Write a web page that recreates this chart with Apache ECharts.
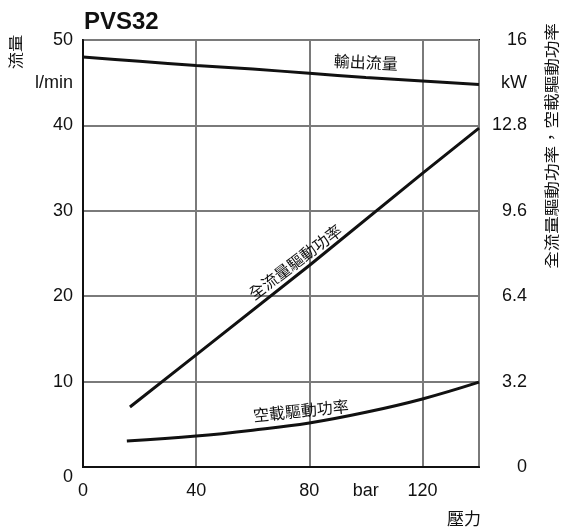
<!DOCTYPE html>
<html>
<head>
<meta charset="utf-8">
<script src="https://cdn.jsdelivr.net/npm/echarts@6/dist/echarts.min.js"></script>
<style>
html,body{margin:0;padding:0;background:#fff;}
#c{width:565px;height:527px;}
</style>
</head>
<body>
<div id="c"></div>
<script>
// ---- data ----
const titleText = 'PVS32';
const flowPressure = [0, 20, 40, 60, 80, 100, 120, 140];
const flowValues = [48.0, 47.5, 47.0, 46.6, 46.1, 45.6, 45.2, 44.8];          // l/min
const fullPressure = [16.6, 40, 80, 120, 140];
const fullPower = [2.25, 4.2, 7.55, 11.0, 12.7];                                 // kW
const noLoadPressure = [15.5, 40, 60, 80, 100, 120, 140];
const noLoadPower = [0.97, 1.16, 1.38, 1.65, 2.05, 2.55, 3.18];                  // kW
const seriesNames = ['輸出流量', '全流量驅動功率', '空載驅動功率'];
const leftAxisName = '流量';
const rightAxisName = '全流量驅動功率，空載驅動功率';
const xAxisName = '壓力';
const xUnit = 'bar';
const leftUnit = 'l/min';
const rightUnit = 'kW';

const FONT = '"Liberation Sans", Arial, sans-serif';
const CJK = '"Noto Sans CJK TC", "Noto Sans CJK SC", sans-serif';
const INK = '#111';
const GRID = '#7a7a7a';

function zip(a, b) { return a.map((v, i) => [v, b[i]]); }
function fmtNum(v) { return String(Math.round(v * 10) / 10); }

const chart = echarts.init(document.getElementById('c'), null, { renderer: 'canvas' });

const option = {
  animation: false,
  backgroundColor: '#fff',
  title: {
    text: titleText, left: 79, top: 5,
    textStyle: { fontFamily: FONT, fontSize: 24, fontWeight: 'bold', color: INK }
  },
  grid: { left: 83, right: 86, top: 40, bottom: 60, show: true, borderColor: INK, borderWidth: 2, backgroundColor: 'transparent' },
  xAxis: [
    {
      type: 'value', min: 0, max: 140, interval: 40,
      axisLine: { show: true, lineStyle: { color: INK, width: 2 } },
      axisTick: { show: false },
      splitLine: { show: true, lineStyle: { color: GRID, width: 2 } },
      axisLabel: {
        margin: 15, color: INK, fontFamily: FONT, fontSize: 18,
        showMaxLabel: false,
        formatter: v => (v === 140 ? '' : String(v))
      }
    },
    {
      type: 'value', min: 0, max: 140, interval: 20, position: 'bottom',
      axisLine: { show: false }, axisTick: { show: false }, splitLine: { show: false },
      axisLabel: {
        margin: 15, color: INK, fontFamily: FONT, fontSize: 18,
        formatter: v => (v === 100 ? xUnit : '')
      }
    }
  ],
  yAxis: [
    {
      type: 'value', min: 0, max: 50, interval: 10, position: 'left',
      axisLine: { show: true, lineStyle: { color: INK, width: 2 } },
      axisTick: { show: false },
      splitLine: { show: true, lineStyle: { color: GRID, width: 2 } },
      axisLabel: {
        margin: 10, color: INK, fontFamily: FONT, fontSize: 18,
        formatter: v => (v === 0 ? '{z|0}' : String(v)),
        rich: { z: { fontFamily: FONT, fontSize: 18, color: INK, padding: [20, 0, 0, 0] } }
      }
    },
    {
      type: 'value', min: 0, max: 16, interval: 3.2, position: 'right',
      axisLine: { show: false }, axisTick: { show: false }, splitLine: { show: false },
      axisLabel: {
        margin: 48, align: 'right', color: INK, fontFamily: FONT, fontSize: 18,
        formatter: v => fmtNum(v)
      }
    },
    {
      type: 'value', min: 0, max: 50, interval: 5, position: 'left',
      axisLine: { show: false }, axisTick: { show: false }, splitLine: { show: false },
      axisLabel: {
        margin: 10, color: INK, fontFamily: FONT, fontSize: 18,
        formatter: v => (v === 45 ? leftUnit : '')
      }
    },
    {
      type: 'value', min: 0, max: 16, interval: 1.6, position: 'right',
      axisLine: { show: false }, axisTick: { show: false }, splitLine: { show: false },
      axisLabel: {
        margin: 48, align: 'right', color: INK, fontFamily: FONT, fontSize: 18,
        formatter: v => (Math.abs(v - 14.4) < 0.01 ? rightUnit : '')
      }
    }
  ],
  series: [
    {
      name: seriesNames[0], type: 'line', xAxisIndex: 0, yAxisIndex: 0,
      data: zip(flowPressure, flowValues), smooth: 0.3, showSymbol: false,
      lineStyle: { color: INK, width: 3 }
    },
    {
      name: seriesNames[1], type: 'line', xAxisIndex: 0, yAxisIndex: 1,
      data: zip(fullPressure, fullPower), smooth: false, showSymbol: false,
      lineStyle: { color: INK, width: 3 }
    },
    {
      name: seriesNames[2], type: 'line', xAxisIndex: 0, yAxisIndex: 1,
      data: zip(noLoadPressure, noLoadPower), smooth: 0.4, showSymbol: false,
      lineStyle: { color: INK, width: 3 }
    }
  ]
};
chart.setOption(option);

// curve labels anchored in data coordinates (pressure, flow-axis value)
function px(x, y) { return chart.convertToPixel({ xAxisIndex: 0, yAxisIndex: 0 }, [x, y]); }
const lab0 = px(100, 47.4);
const lab1 = px(75, 24.0);
const lab2 = px(77, 6.6);
const gridRect = chart.getModel().getComponent('grid').coordinateSystem.getRect();

function txt(p, s, rot, size, extra) {
  return Object.assign({
    type: 'text', x: p[0], y: p[1], rotation: rot,
    style: { text: s, fill: INK, font: size + 'px ' + CJK, align: 'center', verticalAlign: 'middle' }
  }, extra || {});
}

chart.setOption({
  graphic: [
    txt(lab0, seriesNames[0], -0.05, 16),
    txt(lab1, seriesNames[1], 0.65, 16),
    txt(lab2, seriesNames[2], 0.1, 16),
    txt([15, 52], leftAxisName, Math.PI / 2, 15, { scaleX: 1.15 }),
    txt([551, 146], rightAxisName, Math.PI / 2, 15, { scaleX: 1.17 }),
    {
      type: 'text', x: gridRect.x + gridRect.width + 2, y: 519,
      style: { text: xAxisName, fill: INK, font: '17px ' + CJK, align: 'right', verticalAlign: 'middle' }
    }
  ]
});
</script>
</body>
</html>
